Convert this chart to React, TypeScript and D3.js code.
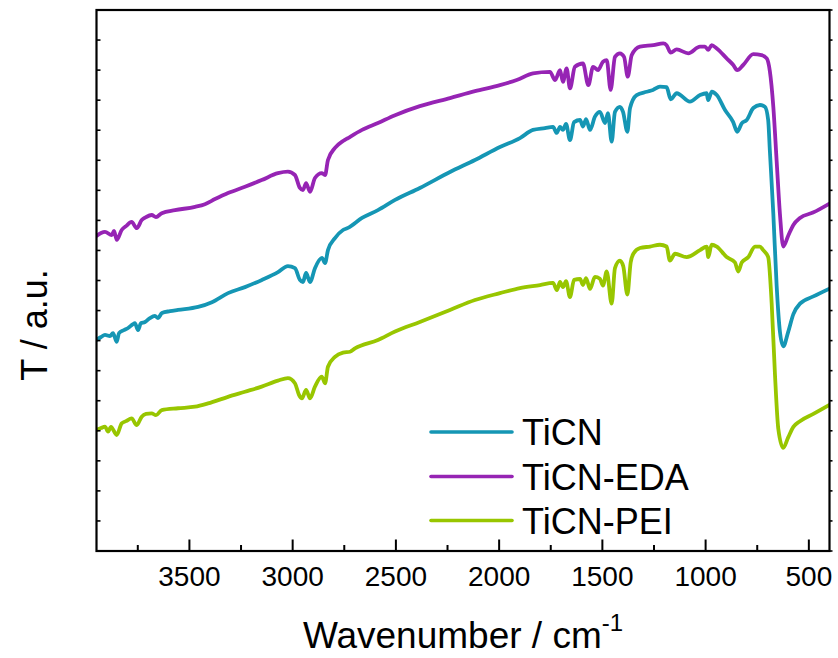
import React from "react";
import * as d3 from "d3";

// [wavenumber (cm^-1), transmittance (a.u.)]
const TICN: [number, number][] = [
  [3950, 7.02], [3928, 7.12], [3909, 7.19], [3885, 7.15], [3870, 7.25], [3852, 6.96], [3841, 7.25],
  [3817, 7.35], [3797, 7.42], [3773, 7.55], [3764, 7.58], [3749, 7.35], [3735, 7.58], [3715, 7.62],
  [3691, 7.75], [3667, 7.82], [3652, 7.75], [3633, 7.92], [3594, 7.98], [3555, 8.02], [3458, 8.12],
  [3391, 8.28], [3313, 8.58], [3231, 8.78], [3149, 9.02], [3071, 9.28], [3023, 9.48], [2989, 9.41],
  [2965, 9.02], [2950, 8.95], [2935, 9.25], [2916, 8.95], [2892, 9.41], [2858, 9.75], [2843, 9.58],
  [2829, 10.01], [2795, 10.41], [2756, 10.68], [2732, 10.75], [2664, 11.08], [2587, 11.34],
  [2504, 11.68], [2384, 12.08], [2238, 12.61], [2117, 13.01], [1996, 13.44], [1899, 13.74],
  [1836, 14.01], [1778, 14.07], [1739, 14.11], [1721, 13.91], [1705, 14.11], [1691, 14.01],
  [1676, 14.21], [1657, 13.67], [1637, 14.27], [1608, 14.34], [1594, 14.12], [1579, 14.37],
  [1560, 14.01], [1536, 14.45], [1512, 14.61], [1487, 14.24], [1473, 14.57], [1455, 13.62],
  [1439, 14.61], [1415, 14.78], [1400, 14.61], [1379, 13.95], [1366, 14.74], [1334, 15.17],
  [1285, 15.28], [1255, 15.34], [1221, 15.45], [1189, 15.43], [1169, 15.03], [1140, 15.23],
  [1076, 14.95], [1027, 15.17], [995, 15.23], [988, 15.0], [970, 15.28], [946, 15.17], [906, 14.67],
  [867, 14.28], [847, 13.95], [825, 14.23], [801, 14.34], [769, 14.74], [737, 14.84], [713, 14.78],
  [697, 14.34], [689, 13.34], [672, 11.21], [656, 8.83], [640, 7.29], [624, 6.81], [600, 7.29],
  [575, 7.88], [543, 8.23], [478, 8.47], [400, 8.73],
];

const TICN_EDA: [number, number][] = [
  [3950, 10.48], [3928, 10.58], [3909, 10.62], [3876, 10.51], [3865, 10.65], [3852, 10.35],
  [3828, 10.68], [3807, 10.81], [3780, 10.95], [3755, 10.74], [3731, 11.01], [3710, 11.11],
  [3683, 11.18], [3662, 11.11], [3634, 11.24], [3570, 11.34], [3473, 11.45], [3425, 11.54],
  [3376, 11.71], [3313, 11.91], [3231, 12.12], [3150, 12.34], [3071, 12.57], [3023, 12.62],
  [2989, 12.51], [2965, 12.08], [2950, 12.01], [2935, 12.24], [2916, 11.95], [2892, 12.41],
  [2859, 12.57], [2843, 12.51], [2829, 13.01], [2795, 13.41], [2756, 13.64], [2732, 13.74],
  [2664, 14.01], [2587, 14.24], [2504, 14.5], [2384, 14.8], [2238, 15.07], [2117, 15.3],
  [1996, 15.5], [1915, 15.67], [1836, 15.89], [1754, 15.94], [1729, 15.67], [1705, 16.0],
  [1691, 15.61], [1673, 16.06], [1657, 15.39], [1633, 16.11], [1594, 16.22], [1568, 15.5],
  [1545, 16.11], [1521, 16.0], [1497, 16.28], [1479, 16.33], [1460, 15.34], [1439, 16.44],
  [1415, 16.56], [1395, 16.44], [1377, 15.78], [1358, 16.5], [1318, 16.78], [1253, 16.83],
  [1205, 16.89], [1189, 16.83], [1169, 16.58], [1140, 16.69], [1084, 16.56], [1027, 16.78],
  [1003, 16.78], [987, 16.67], [971, 16.83], [946, 16.72], [898, 16.39], [866, 16.17], [847, 16.0],
  [818, 16.17], [769, 16.53], [729, 16.5], [704, 16.39], [689, 15.97], [672, 14.77], [656, 12.98],
  [640, 11.21], [624, 10.13], [600, 10.49], [575, 10.85], [543, 11.08], [480, 11.26], [400, 11.56],
];

const TICN_PEI: [number, number][] = [
  [3950, 4.03], [3928, 4.09], [3909, 4.14], [3894, 3.97], [3880, 4.13], [3852, 3.86], [3828, 4.25],
  [3807, 4.32], [3780, 4.41], [3755, 4.19], [3731, 4.47], [3710, 4.56], [3683, 4.58], [3662, 4.52],
  [3634, 4.69], [3555, 4.75], [3473, 4.8], [3410, 4.91], [3313, 5.13], [3231, 5.3], [3150, 5.47],
  [3071, 5.67], [3023, 5.75], [2989, 5.58], [2969, 5.19], [2955, 5.08], [2935, 5.36], [2916, 5.08],
  [2892, 5.47], [2859, 5.8], [2843, 5.58], [2829, 6.13], [2795, 6.46], [2756, 6.6], [2722, 6.63],
  [2698, 6.74], [2587, 7.02], [2504, 7.3], [2384, 7.62], [2238, 8.02], [2117, 8.35], [1996, 8.58],
  [1899, 8.75], [1802, 8.85], [1739, 8.92], [1720, 8.68], [1705, 8.95], [1691, 8.78], [1676, 8.98],
  [1657, 8.45], [1637, 9.02], [1608, 9.05], [1594, 8.85], [1579, 9.08], [1560, 8.72], [1536, 9.12],
  [1512, 9.06], [1497, 8.83], [1479, 9.3], [1455, 8.23], [1439, 9.41], [1415, 9.66], [1399, 9.48],
  [1379, 8.53], [1363, 9.6], [1350, 9.89], [1318, 10.08], [1269, 10.13], [1221, 10.19], [1189, 10.13],
  [1173, 9.66], [1148, 9.89], [1092, 9.78], [1027, 10.01], [995, 10.13], [987, 9.78], [971, 10.19],
  [946, 10.13], [898, 9.78], [858, 9.6], [842, 9.3], [825, 9.6], [793, 9.78], [761, 10.13],
  [737, 10.13], [721, 10.01], [697, 9.78], [680, 8.23], [664, 5.86], [648, 4.07], [624, 3.43],
  [600, 3.78], [575, 4.13], [543, 4.32], [478, 4.56], [400, 4.86],
];

const SERIES_NAMES = ["TiCN", "TiCN-EDA", "TiCN-PEI"];
const SERIES_COLORS = ["#1596b4", "#9624b4", "#98c600"];
const X_DOMAIN = [3950, 400];
const Y_DOMAIN = [0, 18];
const X_MAJOR = [3500, 3000, 2500, 2000, 1500, 1000, 500];
const X_MINOR = [3750, 3250, 2750, 2250, 1750, 1250, 750];
const Y_TICKS = d3.range(0, 19, 1);

const W = 838;
const H = 658;
const L = 96.5, R = 829.5, T = 10, B = 551;

export default function App() {
  const x = d3.scaleLinear().domain(X_DOMAIN).range([L, R]);
  const y = d3.scaleLinear().domain(Y_DOMAIN).range([B, T]);
  const line = d3
    .line<[number, number]>()
    .x((d) => x(d[0]))
    .y((d) => y(d[1]))
    .curve(d3.curveMonotoneX);
  const data = [TICN, TICN_EDA, TICN_PEI];
  const font = "'Liberation Sans', Arial, sans-serif";
  const legendY = [432, 476.5, 520.5];

  return (
    <div style={{ position: "fixed", left: 0, top: 0 }}>
      <svg width={W} height={H} style={{ display: "block", background: "#fff" }} fontFamily={font}>
        <defs>
          <clipPath id="plotclip">
            <rect x={L} y={T} width={R - L} height={B - T} />
          </clipPath>
        </defs>
        <g clipPath="url(#plotclip)">
          {data.map((d, i) => (
            <path
              key={i}
              d={line(d) || ""}
              fill="none"
              stroke={SERIES_COLORS[i]}
              strokeWidth={3.8}
              strokeLinejoin="round"
              strokeLinecap="round"
            />
          ))}
        </g>
        {/* frame */}
        <rect x={L} y={T} width={R - L} height={B - T} fill="none" stroke="#000" strokeWidth={2.2} />
        {/* bottom ticks */}
        {X_MAJOR.map((v) => (
          <line key={"M" + v} x1={x(v)} x2={x(v)} y1={B} y2={B - 11.5} stroke="#000" strokeWidth={2} />
        ))}
        {X_MINOR.map((v) => (
          <line key={"m" + v} x1={x(v)} x2={x(v)} y1={B} y2={B - 6} stroke="#000" strokeWidth={2} />
        ))}
        {X_MAJOR.map((v) => (
          <text key={"t" + v} x={x(v)} y={586} fontSize={28} textAnchor="middle" fill="#000">
            {v}
          </text>
        ))}
        {/* y ticks */}
        {Y_TICKS.map((v) => (
          <g key={"y" + v}>
            <line x1={L} x2={L + 4} y1={y(v)} y2={y(v)} stroke="#000" strokeWidth={1.6} />
            <line x1={R} x2={R + 3} y1={y(v)} y2={y(v)} stroke="#000" strokeWidth={1.6} />
          </g>
        ))}
        {/* axis titles */}
        <text x={(L + R) / 2} y={648} fontSize={37} textAnchor="middle" fill="#000">
          Wavenumber / cm
          <tspan fontSize={24} dy={-17}>-1</tspan>
        </text>
        <text transform="translate(47,325) rotate(-90)" fontSize={36} textAnchor="middle" fill="#000">
          T / a.u.
        </text>
        {/* legend */}
        {SERIES_NAMES.map((n, i) => (
          <g key={n}>
            <line x1={431} x2={512} y1={legendY[i]} y2={legendY[i]} stroke={SERIES_COLORS[i]} strokeWidth={3.6} strokeLinecap="round" />
            <text x={522} y={legendY[i] + 13} fontSize={36} fill="#000">
              {n}
            </text>
          </g>
        ))}
      </svg>
    </div>
  );
}
